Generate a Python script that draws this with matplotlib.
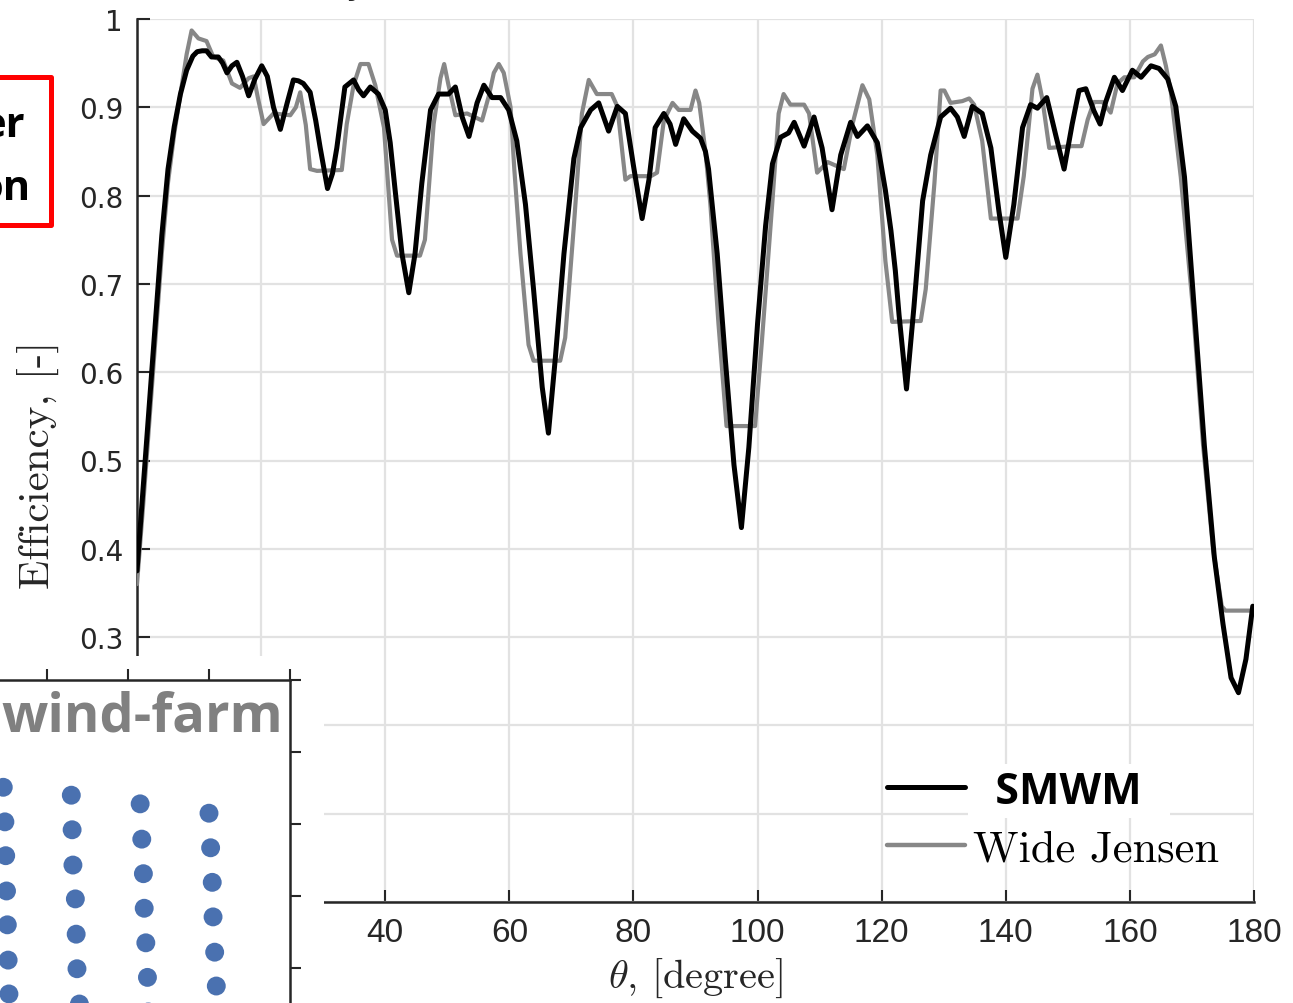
import numpy as np
import matplotlib
matplotlib.use('Agg')
import matplotlib.pyplot as plt
from matplotlib.patches import Rectangle
from matplotlib.font_manager import FontProperties

plt.rcParams['mathtext.fontset'] = 'cm'

# ── Dados: eficiência vs direção do vento ────────────────────────────────────
theta_smwm = [0.0, 1.0, 2.0, 3.0, 4.0, 5.0, 6.0, 7.0, 8.0, 9.0, 9.7, 10.5, 11.2,
              12.0, 13.1, 13.8, 14.5, 15.3, 16.1, 17.0, 18.0, 19.0, 20.1, 21.0,
              22.0, 23.1, 24.2, 25.2, 26.0, 26.8, 27.9, 28.8, 29.5, 30.7, 31.5,
              32.2, 33.5, 34.9, 35.7, 36.5, 37.6, 38.9, 40.0, 40.8, 41.6, 42.7,
              43.8, 44.8, 45.9, 47.3, 48.6, 50.2, 51.3, 52.4, 53.5, 54.8, 55.9,
              57.2, 58.6, 59.9, 61.2, 62.6, 63.9, 65.3, 66.3, 67.4, 68.8, 70.4,
              71.5, 73.1, 74.4, 76.0, 77.4, 78.7, 80.0, 81.4, 82.5, 83.5, 84.9,
              85.9, 86.8, 88.1, 89.5, 90.8, 91.6, 92.1, 93.5, 94.8, 96.2, 97.4,
              98.6, 100.0, 101.3, 102.4, 103.7, 105.0, 105.9, 107.5, 109.1,
              110.4, 112.0, 113.4, 115.0, 116.1, 117.7, 119.3, 120.6, 121.5,
              122.2, 122.8, 124.0, 125.2, 126.6, 127.9, 129.5, 131.1, 132.2,
              133.3, 134.6, 136.2, 137.6, 138.9, 140.0, 141.3, 142.7, 144.0,
              145.1, 146.6, 148.1, 149.4, 150.7, 151.8, 152.9, 154.2, 155.2,
              156.1, 157.5, 158.8, 160.4, 161.8, 163.4, 164.7, 166.1, 167.4,
              168.8, 170.4, 172.0, 173.6, 175.0, 176.3, 177.5, 178.7, 179.8]
eff_smwm = [0.375, 0.47, 0.565, 0.66, 0.755, 0.83, 0.878, 0.915, 0.942, 0.958,
            0.963, 0.964, 0.964, 0.957, 0.957, 0.950, 0.939, 0.947, 0.951, 0.935,
            0.913, 0.932, 0.947, 0.935, 0.900, 0.875, 0.905, 0.931, 0.930, 0.927,
            0.917, 0.885, 0.855, 0.808, 0.825, 0.854, 0.923, 0.931, 0.920, 0.913,
            0.923, 0.915, 0.897, 0.860, 0.806, 0.734, 0.690, 0.734, 0.814, 0.897,
            0.915, 0.915, 0.923, 0.889, 0.867, 0.905, 0.925, 0.911, 0.911, 0.897,
            0.862, 0.790, 0.694, 0.583, 0.531, 0.615, 0.734, 0.842, 0.877, 0.897,
            0.905, 0.873, 0.901, 0.893, 0.834, 0.774, 0.818, 0.877, 0.893, 0.881,
            0.858, 0.887, 0.873, 0.865, 0.850, 0.830, 0.734, 0.615, 0.495, 0.424,
            0.515, 0.655, 0.766, 0.836, 0.866, 0.871, 0.883, 0.856, 0.889, 0.854,
            0.784, 0.846, 0.883, 0.867, 0.879, 0.860, 0.806, 0.760, 0.715, 0.665,
            0.581, 0.674, 0.794, 0.846, 0.889, 0.899, 0.889, 0.867, 0.901, 0.893,
            0.854, 0.782, 0.730, 0.790, 0.877, 0.903, 0.899, 0.911, 0.867, 0.830,
            0.881, 0.919, 0.921, 0.896, 0.881, 0.906, 0.934, 0.919, 0.942, 0.934,
            0.947, 0.944, 0.932, 0.901, 0.821, 0.669, 0.517, 0.391, 0.315, 0.254,
            0.237, 0.275, 0.335]

theta_wj = [0.0, 1.0, 2.0, 3.0, 4.0, 5.0, 6.0, 7.0, 8.0, 8.8, 9.9, 11.2, 12.3,
            13.9, 15.3, 16.6, 18.0, 18.8, 19.5, 20.4, 22.0, 24.7, 25.6, 26.3,
            27.2, 27.9, 29.0, 33.0, 33.8, 34.9, 36.0, 37.3, 38.4, 39.8, 41.1,
            41.9, 45.6, 46.4, 47.8, 48.9, 49.5, 50.2, 51.3, 53.2, 55.6, 56.7,
            57.5, 58.3, 59.1, 60.2, 60.8, 61.8, 63.1, 63.9, 68.2, 69.0, 70.4,
            71.7, 72.8, 74.1, 76.5, 77.4, 78.7, 79.5, 82.8, 83.8, 84.9, 86.3,
            87.3, 89.2, 90.0, 90.6, 91.6, 92.4, 93.7, 95.0, 99.6, 100.7, 102.4,
            103.4, 104.2, 105.3, 107.5, 108.3, 109.6, 111.3, 113.9, 115.3, 116.9,
            118.0, 119.3, 120.6, 121.7, 126.3, 127.1, 128.5, 129.5, 130.1, 131.1,
            133.0, 134.1, 134.9, 136.2, 137.6, 141.9, 142.9, 144.3, 145.1, 145.9,
            147.0, 150.7, 152.2, 153.2, 154.2, 155.6, 156.9, 158.0, 159.1, 160.7,
            162.1, 162.9, 164.0, 165.0, 165.8, 166.6, 168.2, 170.2, 171.8, 173.4,
            174.8, 175.4, 179.5]
eff_wj = [0.36, 0.45, 0.545, 0.64, 0.735, 0.815, 0.87, 0.915, 0.96, 0.987, 0.978,
          0.975, 0.957, 0.953, 0.927, 0.922, 0.933, 0.935, 0.910, 0.881, 0.893,
          0.891, 0.900, 0.917, 0.880, 0.830, 0.828, 0.829, 0.881, 0.925, 0.949,
          0.949, 0.925, 0.877, 0.750, 0.732, 0.732, 0.750, 0.881, 0.933, 0.949,
          0.925, 0.891, 0.893, 0.885, 0.913, 0.939, 0.949, 0.939, 0.900, 0.830,
          0.734, 0.631, 0.613, 0.613, 0.639, 0.766, 0.893, 0.931, 0.915, 0.915,
          0.901, 0.818, 0.822, 0.822, 0.826, 0.885, 0.905, 0.897, 0.897, 0.919,
          0.905, 0.850, 0.790, 0.655, 0.539, 0.539, 0.635, 0.794, 0.893, 0.915,
          0.903, 0.903, 0.893, 0.826, 0.838, 0.830, 0.881, 0.925, 0.909, 0.846,
          0.726, 0.657, 0.658, 0.694, 0.814, 0.919, 0.919, 0.905, 0.907, 0.910,
          0.903, 0.862, 0.774, 0.774, 0.822, 0.921, 0.937, 0.909, 0.854, 0.856,
          0.856, 0.886, 0.906, 0.906, 0.894, 0.927, 0.934, 0.934, 0.952, 0.957,
          0.960, 0.970, 0.947, 0.917, 0.821, 0.669, 0.517, 0.400, 0.335, 0.330,
          0.330]

x_ticks = [0, 20, 40, 60, 80, 100, 120, 140, 160, 180]
x_ticklabels = ['', '', '40', '60', '80', '100', '120', '140', '160', '180']  # 0 e 20 ficam sob o inset
y_ticks = [0, 0.1, 0.2, 0.3, 0.4, 0.5, 0.6, 0.7, 0.8, 0.9, 1.0]
y_ticklabels = ['', '', '', '0.3', '0.4', '0.5', '0.6', '0.7', '0.8', '0.9', '1']

# ── Layout do parque (inset recortado) ───────────────────────────────────────
turb_x = [0.46, 0.48, 0.49, 0.50, 0.51, 0.52, 0.53,
          1.30, 1.31, 1.32, 1.35, 1.36, 1.37, 1.40,
          2.15, 2.17, 2.19, 2.20, 2.22, 2.24, 2.25,
          3.00, 3.02, 3.04, 3.05, 3.07, 3.09]
turb_y = [-1.49, -1.97, -2.44, -2.93, -3.40, -3.89, -4.36,
          -1.60, -2.08, -2.57, -3.04, -3.53, -4.01, -4.50,
          -1.72, -2.21, -2.69, -3.17, -3.65, -4.13, -4.61,
          -1.85, -2.33, -2.81, -3.29, -3.78, -4.25]

W, H = 1293, 1004
DARK = '#262626'
GRID = '#e2e2e2'
GRAY = '#878787'


def fx(px):
    return px / W


def fy(py):
    return 1 - py / H


fig = plt.figure(figsize=(W / 100, H / 100), dpi=100)
fig.patch.set_facecolor('white')

# ── Eixo principal ───────────────────────────────────────────────────────────
ax = fig.add_axes([fx(137), fy(903), (1254 - 137) / W, (903 - 20) / H])
l_wj, = ax.plot(theta_wj, eff_wj, color=GRAY, lw=3.0, zorder=3,
                solid_joinstyle='round', solid_capstyle='round')
l_sm, = ax.plot(theta_smwm, eff_smwm, color='black', lw=3.6, zorder=4,
                solid_joinstyle='round', solid_capstyle='round')
ax.set_xlim(0, 180)
ax.set_ylim(0, 1)
ax.set_xticks(x_ticks)
ax.set_xticklabels(x_ticklabels, fontfamily='Liberation Sans', fontsize=24)
ax.set_yticks(y_ticks)
ax.set_yticklabels(y_ticklabels, fontfamily='DejaVu Sans', fontsize=20)
ax.grid(True, color=GRID, lw=1.6)
ax.set_axisbelow(True)
for s in ['top', 'right']:
    ax.spines[s].set_visible(False)
for s in ['left', 'bottom']:
    ax.spines[s].set_color(DARK)
    ax.spines[s].set_linewidth(1.8)
ax.tick_params(direction='in', length=9, width=1.5, color=DARK, labelcolor=DARK)
ax.tick_params(axis='y', pad=10)
ax.tick_params(axis='x', pad=11)

ax.set_ylabel('Efficiency, [-]', fontfamily='cmr10', fontsize=31, color=DARK, va='center')
ax.yaxis.set_label_coords(-0.0886, 0.496)
ax.set_xlabel(r'$\theta$, [degree]', fontfamily='cmr10', fontsize=29, color=DARK, va='center')
ax.xaxis.set_label_coords(0.5, -0.085)

leg = ax.legend(handles=[l_sm, l_wj], labels=['  SMWM  ', 'Wide Jensen'],
                loc='upper left', bbox_to_anchor=(0.6714, 0.150),
                frameon=False, prop=FontProperties(family='cmr10', size=32),
                handlelength=1.76, handletextpad=0.18, labelspacing=0.38,
                borderpad=0, borderaxespad=0)
leg.get_lines()[0].set_linewidth(3.6)
leg.get_lines()[1].set_linewidth(3.2)
t0 = leg.get_texts()[0]
t0.set_fontproperties(FontProperties(family='Open Sans', weight='bold', size=31))
t0.set_bbox(dict(facecolor='white', edgecolor='none', pad=4))
leg.set_zorder(6)

# ── Painel do parque por cima (recorte branco) ──────────────────────────────
fig.add_artist(Rectangle((0, 0), fx(324), (1004 - 657) / H,
                         transform=fig.transFigure, facecolor='white',
                         edgecolor='none', zorder=10))

axin = fig.add_axes([fx(-100), fy(1100), (290 + 100) / W, (1100 - 681) / H], zorder=11)
axin.set_facecolor('none')
axin.scatter(turb_x, turb_y, s=185, color='#4a71b0', edgecolors='none', zorder=3)
axin.set_xlim(-0.815, 4)
axin.set_ylim(-5.819, 0)
axin.set_xticks([1, 2, 3, 4])
axin.set_yticks([0, -1, -2, -3, -4])
axin.xaxis.tick_top()
axin.yaxis.tick_right()
axin.tick_params(direction='out', length=8, width=1.5, color=DARK,
                 labeltop=False, labelright=False)
for s in ['left', 'bottom']:
    axin.spines[s].set_visible(False)
for s in ['top', 'right']:
    axin.spines[s].set_color(DARK)
    axin.spines[s].set_linewidth(1.8)

fig.text(fx(283), fy(732), 'wind-farm', ha='right', va='baseline', color='#808080',
         fontfamily='Open Sans', fontweight='bold', fontsize=39, zorder=12)

# ── Caixa vermelha (recortada à esquerda) ────────────────────────────────────
fig.add_artist(Rectangle((fx(-10), fy(226)), (51 + 10) / W, (226 - 78) / H,
                         transform=fig.transFigure, fill=False, edgecolor='#ff0000',
                         lw=3.6, joinstyle='round', zorder=10))
fig.text(fx(25), fy(137), 'er', ha='right', va='baseline', color='black',
         fontfamily='Open Sans', fontweight='bold', fontsize=30, zorder=11)
fig.text(fx(30), fy(200), 'on', ha='right', va='baseline', color='black',
         fontfamily='Open Sans', fontweight='bold', fontsize=30, zorder=11)
fig.text(fx(357), fy(-6), 'y', ha='center', va='baseline', color=DARK,
         fontsize=26, zorder=11)

fig.savefig('out.png', dpi=100)
